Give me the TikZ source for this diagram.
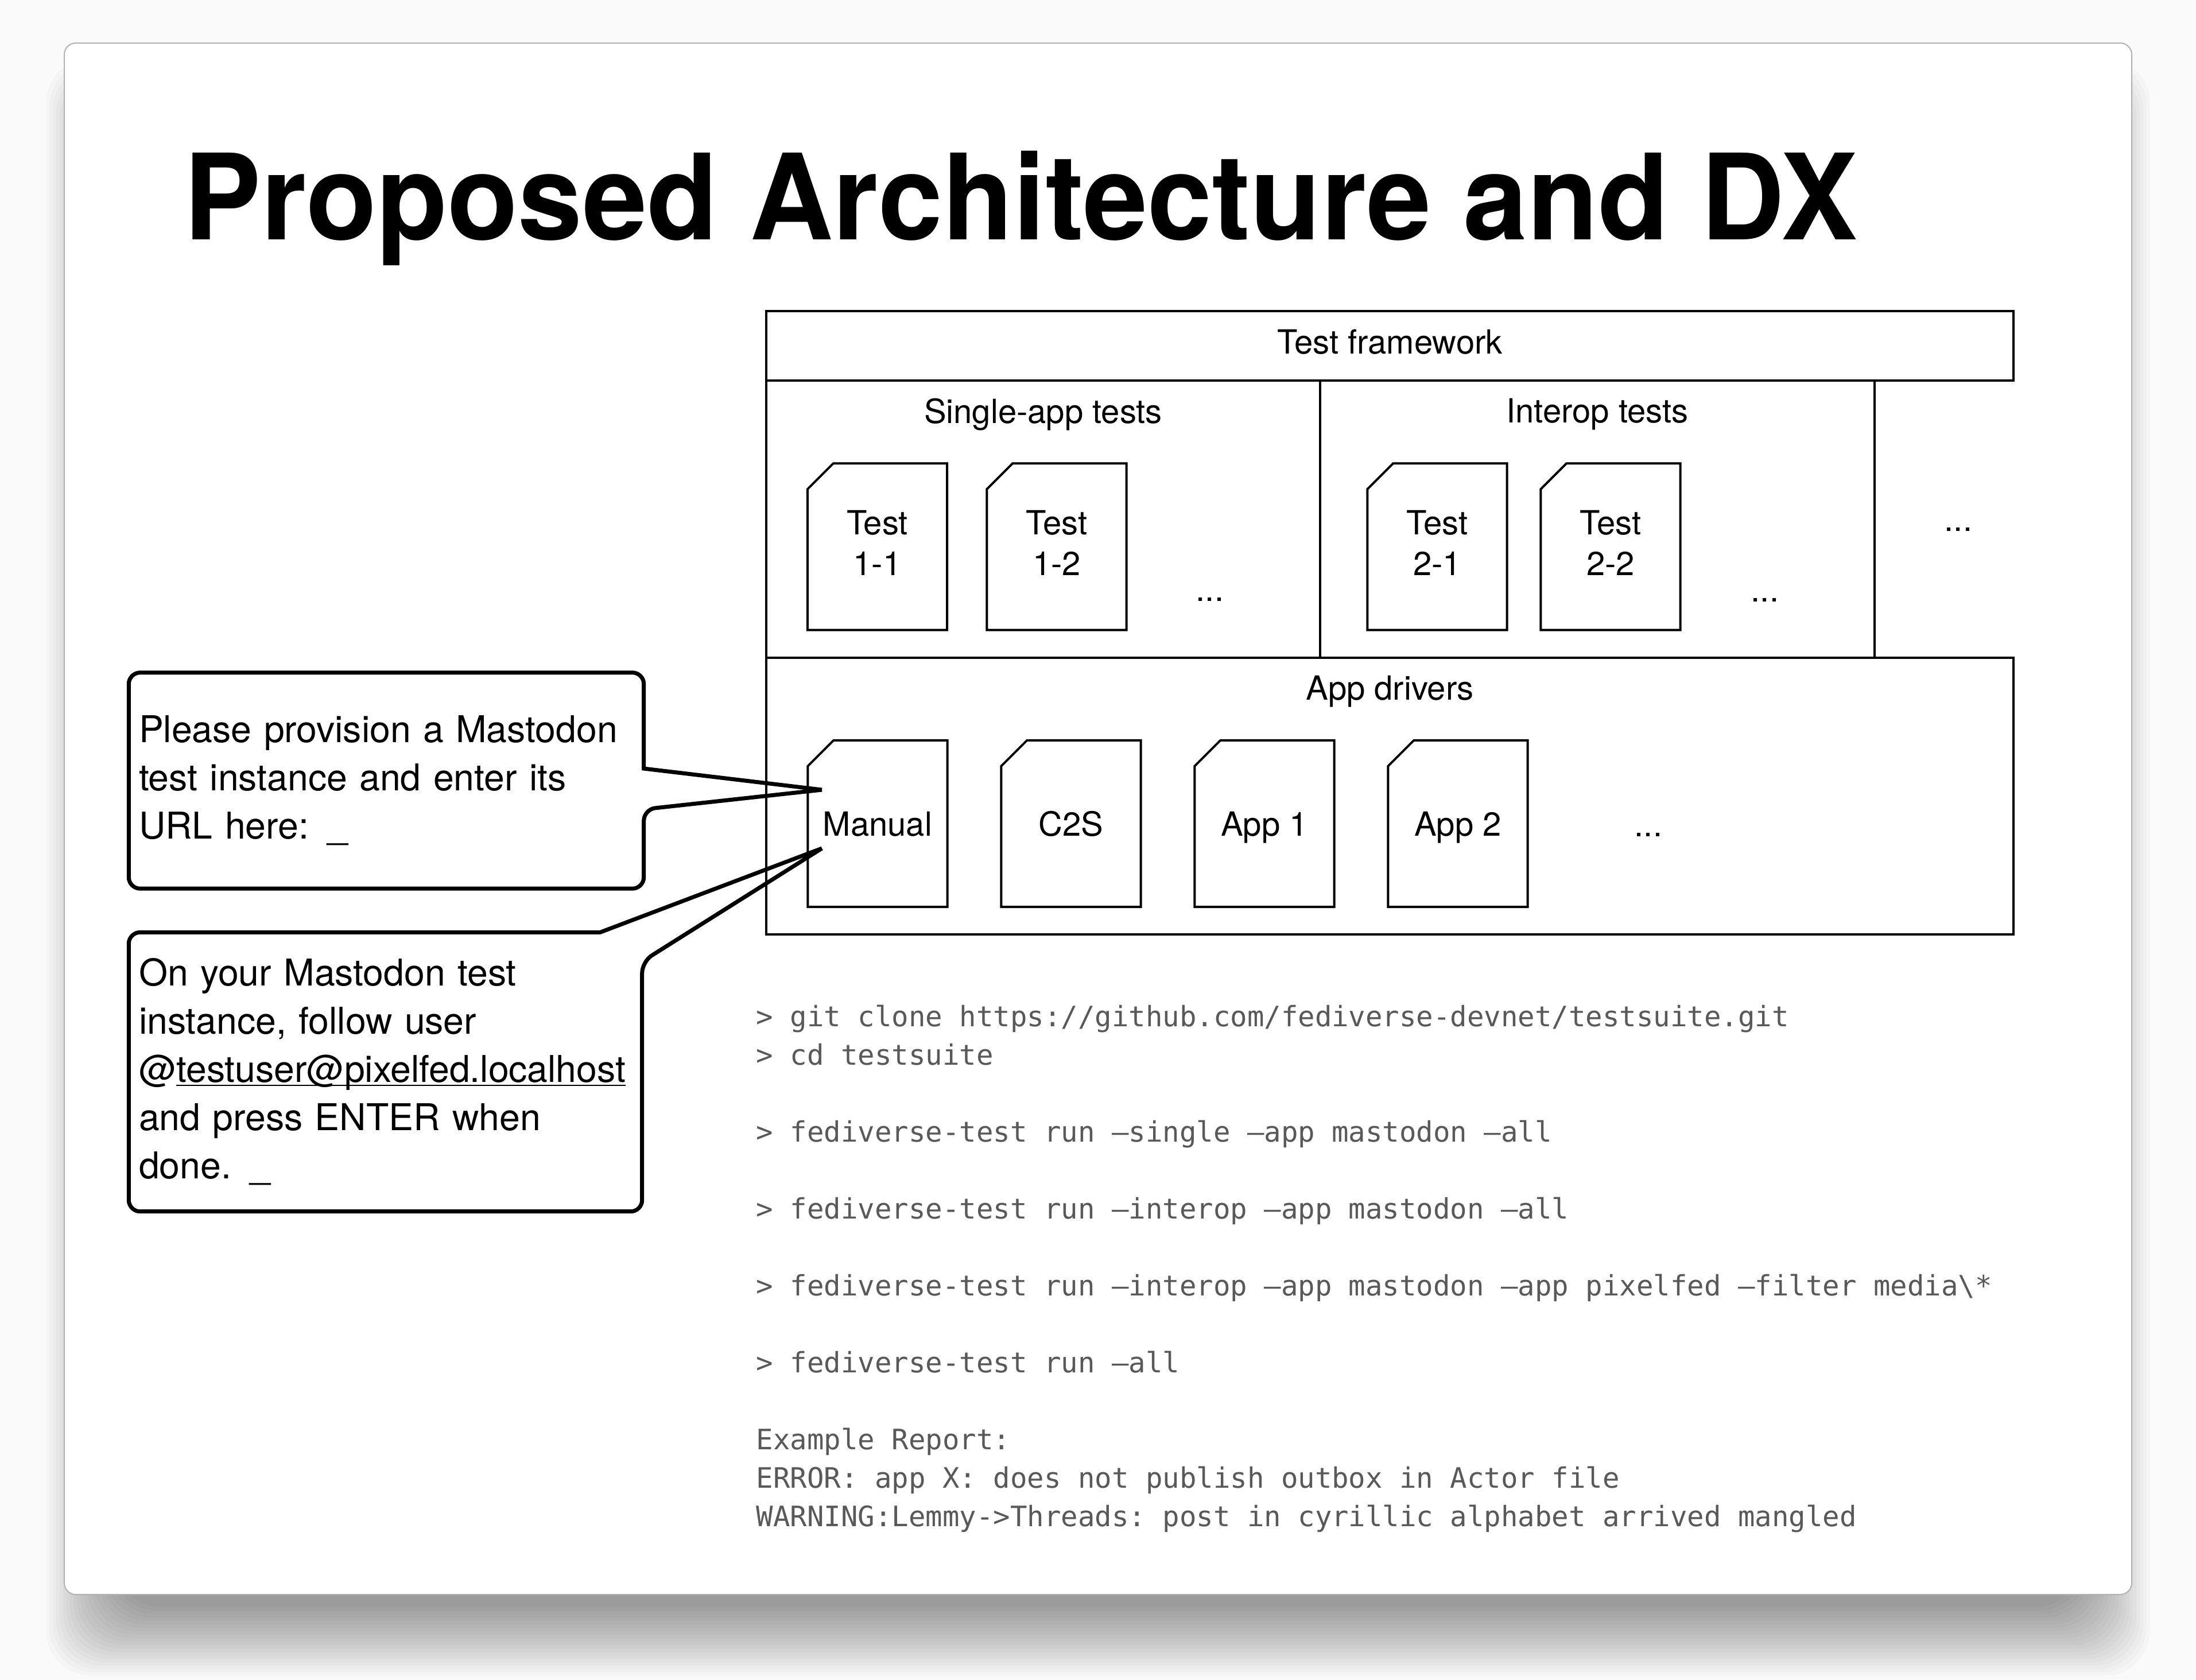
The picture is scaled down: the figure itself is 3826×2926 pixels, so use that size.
\documentclass[tikz,border=0pt]{standalone}
\usepackage{fontspec}
\setmainfont{TeX Gyre Heros}
\setmonofont{DejaVu Sans Mono}
\usetikzlibrary{positioning}
\definecolor{codegray}{HTML}{595959}
\definecolor{pagebg}{HTML}{FAFAFA}
\newcommand{\ulnk}[1]{\setbox0=\hbox{#1}\rlap{\rule[-1.8pt]{\wd0}{0.7pt}}\box0}
\tikzset{
 frame/.style={draw, line width=0.4mm, inner sep=0pt},
 card/.style={inner sep=0pt, minimum width=24.2mm, minimum height=28.9mm},
 lbl/.style={inner sep=0pt, font=\fontsize{16.5}{20.2}\selectfont},
 asktext/.style={align=left, inner xsep=1.7mm, inner ysep=0pt, font=\fontsize{18.3}{23.9}\selectfont},
 callout/.style={line width=0.7mm, line join=miter},
 code/.style={anchor=base west, inner sep=0pt, text=codegray, font=\ttfamily\fontsize{13.94}{19}\selectfont}
}

\begin{document}
\begin{tikzpicture}[x=0.1mm, y=-0.1mm]
% page, shadow and slide
\fill[pagebg] (0,0) rectangle (3826,2926);
\foreach \r in {0,6,...,120}
 \fill[black, opacity=0.019, rounded corners=8mm] (200-\r,220-\r) rectangle (3626+\r,2800+\r);
\draw[gray!60, line width=0.2mm, fill=white, rounded corners=2mm] (112,75) rectangle (3714,2778);

\node[anchor=base west, inner sep=0pt, xscale=0.972, font=\bfseries\fontsize{59}{60}\selectfont] (title) at (320,417) {Proposed Architecture and DX};

% framework
\node[frame, minimum width=217.3mm, minimum height=12.1mm, lbl, text depth=1.4mm] (tf) at (2421.5,602.5) {Test framework};
\node[frame, minimum width=96.5mm, minimum height=48.3mm] (single) at (1817.5,904.5) {};
\node[frame, minimum width=96.6mm, minimum height=48.3mm] (interop) at (2783,904.5) {};
\node[frame, minimum width=217.3mm, minimum height=48.2mm] (drv) at (2421.5,1387) {};
\node[lbl, below=3.2mm of single.north] (lsingle) {Single-app tests};
\node[lbl, below=3.2mm of interop.north] (linterop) {Interop tests};
\node[lbl, below=3.2mm of drv.north] (ldrv) {App drivers};

\foreach \n/\x/\t in {t11/1528.5/1-1, t12/1841/1-2, t21/2504/2-1, t22/2806/2-2} {
 \node[card] (\n) at (\x,952.5) {};
 \node[lbl, align=center] (\n-t) at ([yshift=0.7mm]\n.center) {Test\\\t};
}
\foreach \n/\x/\t in {man/1529/Manual, c2s/1866/C2S, app1/2203/App 1, app2/2540/App 2}
 \node[card, lbl, minimum width=24.2mm, minimum height=28.9mm, text depth=0pt] (\n) at (\x,1435) {\t};
\foreach \n in {t11,t12,t21,t22,man,c2s,app1,app2}
 \draw[line width=0.4mm, line join=miter] ([yshift=-4.5mm]\n.north west) -- (\n.south west) -- (\n.south east) -- (\n.north east) -- ([xshift=4.5mm]\n.north west) -- cycle;

\node[lbl] (dots1) at (2108,1044) {...};
\node[lbl] (dots2) at (3075,1045) {...};
\node[lbl] (dots3) at (3412,922) {...};
\node[lbl] (dots4) at (2872,1454) {...};

% prompts of the manual driver
\node[asktext, text width=86.2mm, minimum height=37.5mm] (ask1) at (673,1360)
 {Please provision a Mastodon\\test instance and enter its\\URL here: \_};
\node[asktext, text width=85.9mm, minimum height=48.5mm] (ask2) at (671.5,1867.5)
 {On your Mastodon test\\instance, follow user\\@\ulnk{testuser@pixelfed.localhost}\\and press ENTER when\\done. \_};
\coordinate (tip1) at ([xshift=-9.7mm,yshift=5.9mm]man.center);
\coordinate (tip2) at ([xshift=-9.7mm,yshift=-4.3mm]man.center);
\draw[callout] (tip1) -- ([yshift=2.1mm]ask1.east) [rounded corners=2mm] -- (ask1.north east) -- (ask1.north west)
 -- (ask1.south west) -- (ask1.south east) -- ([yshift=-5mm]ask1.east) [sharp corners] -- (tip1);
\draw[callout] (tip2) -- ([xshift=-7.3mm]ask2.north east) [rounded corners=2mm] -- (ask2.north west)
 -- (ask2.south west) -- (ask2.south east) -- ([yshift=-5.1mm]ask2.north east) [sharp corners] -- (tip2);

% commands
\foreach \i/\t in {0/{> git clone https://github.com/fediverse-devnet/testsuite.git},
 1/{> cd testsuite},
 3/{> fediverse-test run –single –app mastodon –all},
 5/{> fediverse-test run –interop –app mastodon –all},
 7/{> fediverse-test run –interop –app mastodon –app pixelfed –filter media\textbackslash*},
 9/{> fediverse-test run –all},
 11/{Example Report:},
 12/{ERROR: app X: does not publish outbox in Actor file},
 13/{WARNING:Lemmy->Threads: post in cyrillic alphabet arrived mangled}}
 \node[code] (code\i) at (1317,1788+67*\i) {\t};
\end{tikzpicture}
\end{document}
